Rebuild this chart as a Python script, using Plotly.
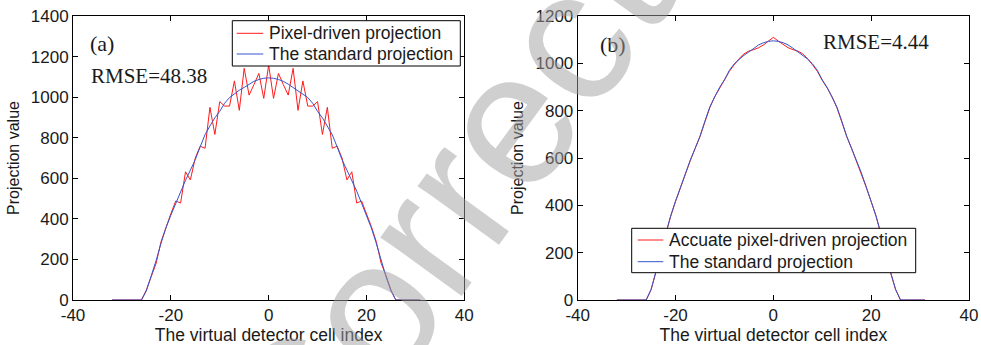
import plotly.graph_objects as go

# detector cell index
cell_index = list(range(-32, 32))

# standard projection (same in both panels)
standard_proj = [0, 0, 0, 0, 0, 0,
                 0, 45, 115, 195, 280, 355, 418, 477, 537, 590, 640, 692, 755, 815, 858, 898, 930, 970, 998, 1018, 1034, 1048, 1064, 1078, 1087, 1093,
                 1095,
                 1093, 1087, 1078, 1064, 1048, 1034, 1018, 998, 970, 930, 898, 858, 815, 755, 692, 640, 590, 537, 477, 418, 355, 280, 195, 115, 45, 0,
                 0, 0, 0, 0, 0]

# pixel-driven projection, panel (a)
pixel_driven = [0, 0, 0, 0, 0, 0,
                0, 50, 120, 181, 288, 362, 425, 488, 478, 632, 592, 700, 758, 748, 950, 816, 978, 956, 956, 1080, 935, 1142, 1010, 1062, 1117, 994,
                1158,
                994, 1117, 1062, 1010, 1142, 935, 1080, 956, 956, 978, 816, 950, 748, 758, 700, 592, 632, 478, 488, 425, 362, 288, 181, 120, 50, 0,
                0, 0, 0, 0, 0]

# accurate pixel-driven projection, panel (b)
accurate_pixel = [0, 0, 0, 0, 0, 0,
                  0, 43, 113, 193, 278, 353, 416, 476, 535, 588, 640, 690, 752, 812, 858, 896, 928, 966, 994, 1020, 1040, 1052, 1058, 1066, 1078, 1094,
                  1110,
                  1094, 1078, 1066, 1058, 1052, 1040, 1020, 994, 966, 928, 896, 858, 812, 752, 690, 640, 588, 535, 476, 416, 353, 278, 193, 113, 43, 0,
                  0, 0, 0, 0, 0]

x_ticks = [-40, -20, 0, 20, 40]
x_tick_labels = ["-40", "-20", "0", "20", "40"]
ya_ticks = [0, 200, 400, 600, 800, 1000, 1200, 1400]
yb_ticks = [0, 200, 400, 600, 800, 1000, 1200]

legend_a_labels = ["Pixel-driven projection", "The standard projection"]
legend_b_labels = ["Accuate pixel-driven projection", "The standard projection"]

RED = "#ff1a1a"
BLUE = "#3355cc"
SANS = "Liberation Sans, Arial, sans-serif"
SERIF = "Liberation Serif, Times New Roman, serif"
TXT = "#1a1a1a"

W, H = 981, 345
ML, MR, MT, MB = 73, 12, 16, 45
PW, PH = W - ML - MR, H - MT - MB


def px(xp):
    return (xp - ML) / PW


def py(yp):
    return (H - MB - yp) / PH


fig = go.Figure()
fig.add_trace(go.Scatter(x=cell_index, y=pixel_driven, mode="lines", name=legend_a_labels[0],
                         line=dict(color=RED, width=1), xaxis="x", yaxis="y", showlegend=False))
fig.add_trace(go.Scatter(x=cell_index, y=standard_proj, mode="lines", name=legend_a_labels[1],
                         line=dict(color=BLUE, width=1), xaxis="x", yaxis="y", showlegend=False))
fig.add_trace(go.Scatter(x=cell_index, y=accurate_pixel, mode="lines", name=legend_b_labels[0],
                         line=dict(color=RED, width=1), xaxis="x2", yaxis="y2", showlegend=False))
fig.add_trace(go.Scatter(x=cell_index, y=standard_proj, mode="lines", name=legend_b_labels[1],
                         line=dict(color=BLUE, width=1), xaxis="x2", yaxis="y2", showlegend=False))

axis_common = dict(showline=True, linecolor="black", linewidth=1, mirror="ticks",
                   ticks="inside", ticklen=5, tickcolor="black", showgrid=False, zeroline=False,
                   automargin=False, tickfont=dict(family=SANS, size=17, color=TXT))

xcommon = dict(axis_common, range=[-40, 40], tickvals=x_ticks, ticktext=x_tick_labels,
               title=dict(text="The virtual detector cell index", font=dict(family=SANS, size=17.5, color=TXT), standoff=5))

fig.update_layout(
    width=W, height=H,
    margin=dict(l=ML, r=MR, t=MT, b=MB, autoexpand=False),
    paper_bgcolor="white", plot_bgcolor="white",
    showlegend=False,
    xaxis=dict(xcommon, domain=[0, px(464.3)], anchor="y"),
    yaxis=dict(axis_common, range=[0, 1400], tickvals=ya_ticks, tickformat="d", anchor="x",
               title=dict(text="Projection value", font=dict(family=SANS, size=16, color=TXT), standoff=7)),
    xaxis2=dict(xcommon, domain=[px(577.7), 1], anchor="y2"),
    yaxis2=dict(axis_common, range=[0, 1200], tickvals=yb_ticks, tickformat="d", anchor="x2",
                title=dict(text="Projection value", font=dict(family=SANS, size=16, color=TXT), standoff=7)),
)

# legend boxes drawn as shapes + text (to match compact MATLAB legend)
legends = [
    dict(box=(232.3, 20.7, 460.3, 66.0), line_x=(236.7, 263.3), rows=(33.3, 54.0), text_x=266.5, labels=legend_a_labels),
    dict(box=(631.7, 228.3, 915.7, 272.7), line_x=(637.7, 663.3), rows=(240.0, 261.7), text_x=666.5, labels=legend_b_labels),
]
for lg in legends:
    x0, y0, x1, y1 = lg["box"]
    fig.add_shape(type="rect", xref="paper", yref="paper", x0=px(x0), x1=px(x1), y0=py(y1), y1=py(y0),
                  line=dict(color="black", width=1), fillcolor="white", layer="above")
    for color, row, label in zip([RED, BLUE], lg["rows"], lg["labels"]):
        fig.add_shape(type="line", xref="paper", yref="paper", x0=px(lg["line_x"][0]), x1=px(lg["line_x"][1]),
                      y0=py(row), y1=py(row), line=dict(color=color, width=1), layer="above")
        fig.add_annotation(xref="paper", yref="paper", x=px(lg["text_x"]), y=py(row), xanchor="left",
                           yanchor="middle", showarrow=False, text=label,
                           font=dict(family=SANS, size=17.5, color=TXT))

annots = [
    dict(text="(a)", x=px(101.5), y=py(43), font=dict(family=SERIF, size=22, color=TXT)),
    dict(text="RMSE=48.38", x=px(148.5), y=py(76), font=dict(family=SERIF, size=21, color=TXT)),
    dict(text="(b)", x=px(613), y=py(45), font=dict(family=SERIF, size=22, color=TXT)),
    dict(text="RMSE=4.44", x=px(876), y=py(41.7), font=dict(family=SERIF, size=21, color=TXT)),
    dict(text="Corrected", x=px(503), y=py(127), textangle=-54,
         font=dict(family=SANS, size=190, color="rgba(160,160,160,0.5)")),
]
for a in annots:
    fig.add_annotation(xref="paper", yref="paper", xanchor="center", yanchor="middle", showarrow=False, **a)

fig.write_html("out.html", config={"displayModeBar": False},
               post_script="document.body.style.margin='0';")
